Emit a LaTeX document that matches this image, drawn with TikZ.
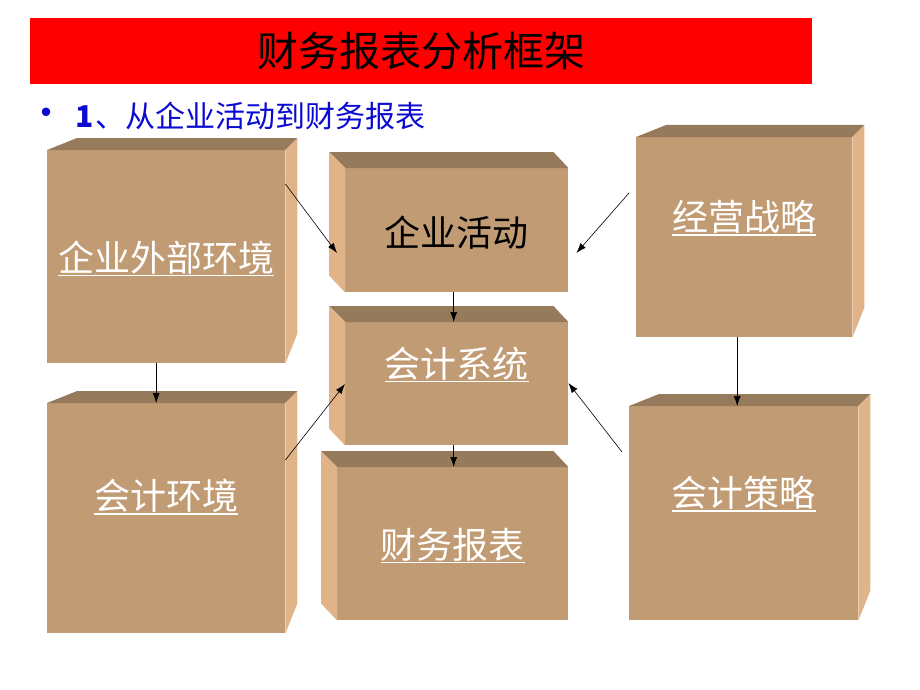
\documentclass[tikz,border=0pt]{standalone}
\usepackage{fontspec}
\newfontfamily\cjk{Noto Sans CJK SC}
\usetikzlibrary{arrows.meta}
\definecolor{frontc}{RGB}{193,155,115}
\definecolor{topc}{RGB}{150,122,92}
\definecolor{sidec}{RGB}{224,180,136}
\definecolor{subblue}{RGB}{10,10,210}
%% white underlined box text
\newcommand{\ulink}[1]{\setbox0\hbox{#1}\rlap{\rule[-5pt]{\wd0}{1.6pt}}\box0}
%% top and side faces of a box, side on the right
\newcommand{\boxright}[1]{%
  \fill[topc] (#1.north west) -- ++(30,-12) -- ([shift={(12,-12)}]#1.north east) -- (#1.north east) -- cycle;
  \fill[sidec] (#1.north east) -- ++(12,-12) -- ([shift={(12,-30)}]#1.south east) -- (#1.south east) -- cycle;}
%% top and side faces of a box, side on the left
\newcommand{\boxleft}[1]{%
  \fill[topc] (#1.north west) -- ++(-16,-16) -- ([shift={(-15,-16)}]#1.north east) -- (#1.north east) -- cycle;
  \fill[sidec] (#1.north west) -- ++(-16,-16) -- ([shift={(-16,-17)}]#1.south west) -- (#1.south west) -- cycle;}
\tikzset{
  face/.style={fill=frontc, inner sep=0pt, anchor=north west},
  boxtext/.style={font=\cjk\fontsize{36}{40}\selectfont, text=white},
  link/.style={-{Latex[length=10pt,width=7pt]}, line width=0.6pt}
}
\begin{document}
\begin{tikzpicture}[x=1pt,y=-1pt]
    \useasboundingbox (0,0) rectangle (920,690);
    %% Title
    \node[fill=red, minimum width=782pt, minimum height=66pt, inner sep=0pt,
          font=\cjk\fontsize{41}{44}\selectfont] (title) at (421,51) {财务报表分析框架};
    \node[anchor=west, text=subblue, font=\cjk\fontsize{30}{34}\selectfont, inner sep=0pt]
          (sub) at (26,116) {{\fontsize{40}{40}\selectfont •}\hspace{9pt}\textbf{1}\hspace{2pt}、从企业活动到财务报表};
    %% Boxes
    \node[face, minimum width=238pt, minimum height=213pt] (envA) at (47,150) {};
    \boxright{envA}
    \node[face, minimum width=223pt, minimum height=124pt] (act) at (345,168) {};
    \boxleft{act}
    \node[face, minimum width=216pt, minimum height=200pt] (strat) at (636,137) {};
    \boxright{strat}
    \node[face, minimum width=223pt, minimum height=123pt] (sys) at (345,322) {};
    \boxleft{sys}
    \node[face, minimum width=238pt, minimum height=230pt] (accEnv) at (47,403) {};
    \boxright{accEnv}
    \node[face, minimum width=231pt, minimum height=153pt] (rep) at (337,467) {};
    \boxleft{rep}
    \node[face, minimum width=229pt, minimum height=214pt] (pol) at (629,406) {};
    \boxright{pol}
    %% Box texts
    \node[boxtext] (tA) at ([yshift=-2pt]envA.center) {\ulink{企业外部环境}};
    \node[boxtext, text=black] (tB) at ([yshift=-2pt]act.center) {企业活动};
    \node[boxtext] (tC) at ([yshift=19pt]strat.center) {\ulink{经营战略}};
    \node[boxtext] (tD) at ([yshift=19pt]sys.center) {\ulink{会计系统}};
    \node[boxtext] (tE) at ([yshift=21pt]accEnv.center) {\ulink{会计环境}};
    \node[boxtext] (tF) at ([yshift=-2pt]rep.center) {\ulink{财务报表}};
    \node[boxtext] (tG) at ([yshift=19pt]pol.center) {\ulink{会计策略}};
    %% Arrows
    \draw[link] ([shift={(0,34)}]envA.north east) -- ([shift={(-8,85)}]act.north west);
    \draw[link] ([shift={(-7,56)}]strat.north west) -- ([shift={(8,85)}]act.north east);
    \draw[link] ([xshift=-3pt]act.south) -- ([xshift=-3pt]sys.north);
    \draw[link] ([xshift=-3pt]sys.south) -- ([xshift=-3pt]sys.south |- rep.north);
    \draw[link] ([xshift=-10pt]envA.south) -- ([xshift=-10pt]accEnv.north);
    \draw[link] ([shift={(0,57)}]accEnv.north east) -- ([shift={(0,62)}]sys.north west);
    \draw[link] ([shift={(-7,46)}]pol.north west) -- ([shift={(0,61)}]sys.north east);
    \draw[link] ([xshift=-7pt]strat.south) -- ([xshift=-7pt]strat.south |- pol.north);
\end{tikzpicture}
\end{document}
